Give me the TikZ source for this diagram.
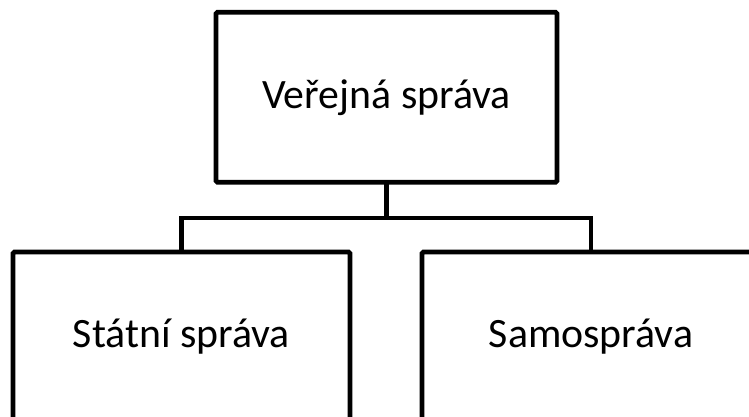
\documentclass[tikz,border=0pt]{standalone}
\usepackage{fontspec}
\setmainfont{Carlito}
\begin{document}
\begin{tikzpicture}[x=1pt,y=1pt,
  box/.style={draw=black,line width=4.8pt,rounded corners=1.5pt,fill=white,
    minimum height=170pt,inner sep=0pt,outer sep=0pt,
    font=\fontsize{41.8}{50}\selectfont},
  link/.style={draw=black,line width=4.8pt}]
\useasboundingbox (0,0) rectangle (749,417);
\node[box,minimum width=341pt] (top) at (386.5,319.7) {Veřejná správa};
\node[box,minimum width=337pt] (left) at (181.4,80) {Státní správa};
\node[box,minimum width=338pt] (right) at (591,80) {Samospráva};
\coordinate (j) at (top.south |- 0,199);
\draw[link] (top.south) -- (j);
\draw[link] (left.north) |- (j) -| (right.north);
\end{tikzpicture}
\end{document}
